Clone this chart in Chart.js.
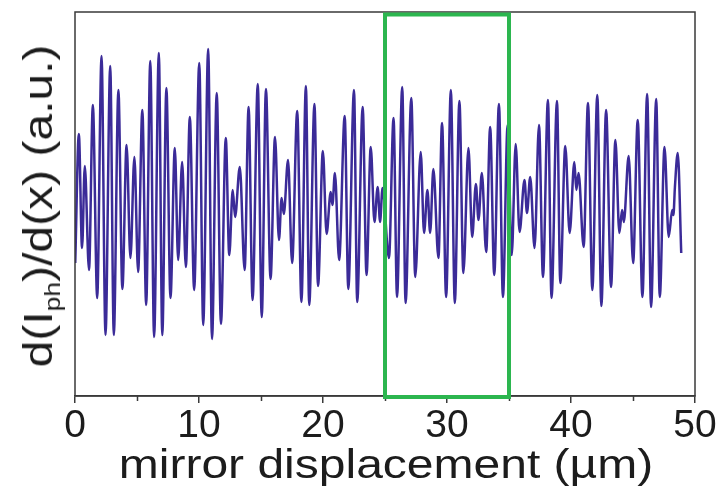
<!DOCTYPE html>
<html>
<head>
<meta charset="utf-8">
<script src="https://cdn.jsdelivr.net/npm/chart.js@4"></script>
<style>
	html, body { margin: 0; padding: 0; background: #fff; }
	#wrap { position: relative; width: 726px; height: 488px; }
	.axis-title {
		position: absolute;
		font-family: "Liberation Sans", Arial, sans-serif; font-size: 40px; color: #1c1c1c;
		white-space: nowrap; line-height: 1;
	}
	#ytitle { left: 38px; top: 206px; transform: translate(-50%, -50%) rotate(-90deg) scaleX(1.2); }
	#ytitle sub { font-size: 22px; vertical-align: -8px; line-height: 0; }
	#xtitle { left: 386px; top: 444px; transform: translateX(-50%) scaleX(1.2); }
</style>
</head>
<body>
<div id="wrap">
	<canvas id="chart" width="726" height="488"></canvas>
	<div id="ytitle" class="axis-title">d(I<sub>ph</sub>)/d(x) (a.u.)</div>
	<div id="xtitle" class="axis-title">mirror displacement (µm)</div>
</div>
<script>
// mirror displacement (µm) of each turning point of the trace
var displacement = [0.02, 0.31, 0.57, 0.79, 1.13, 1.44, 1.79, 2.14, 2.46, 2.84,
	3.13, 3.50, 3.82, 4.16, 4.47, 4.79, 5.09, 5.43, 5.74, 6.07,
	6.38, 6.76, 7.04, 7.37, 7.70, 8.05, 8.32, 8.64, 8.94, 9.26,
	9.61, 10.02, 10.34, 10.74, 11.05, 11.43, 11.77, 12.16, 12.44, 12.72,
	12.91, 13.29, 13.68, 14.00, 14.32, 14.74, 15.06, 15.40, 15.77, 16.13,
	16.45, 16.66, 16.84, 17.18, 17.51, 17.92, 18.26, 18.62, 18.89, 19.31,
	19.60, 19.99, 20.29, 20.62, 20.76, 20.96, 21.30, 21.75, 22.04, 22.50,
	22.76, 23.20, 23.51, 23.85, 24.15, 24.41, 24.60, 24.80, 25.32, 25.69,
	25.97, 26.39, 26.66, 27.12, 27.44, 27.88, 28.15, 28.42, 28.64, 28.90,
	29.31, 29.60, 29.93, 30.31, 30.63, 31.00, 31.32, 31.73, 32.03, 32.33,
	32.54, 32.81, 33.16, 33.48, 33.81, 34.19, 34.51, 34.89, 35.22, 35.54,
	35.85, 36.25, 36.45, 36.71, 37.06, 37.42, 37.74, 38.14, 38.43, 38.87,
	39.14, 39.54, 39.89, 40.27, 40.43, 40.61, 41.02, 41.37, 41.72, 42.12,
	42.45, 42.83, 43.23, 43.58, 43.90, 44.12, 44.26, 44.65, 45.01, 45.38,
	45.76, 46.14, 46.46, 46.87, 47.16, 47.54, 47.88, 48.16, 48.26, 48.38,
	48.61, 48.89];

// d(Iph)/d(x), arbitrary units
var signal = [-4.9, 8.0, -3.4, 4.8, -5.6, 10.9, -8.4, 15.8, -12.1, 14.8,
	-12.1, 12.4, -7.5, 6.9, -4.4, 5.7, -5.8, 10.4, -9.1, 15.3,
	-12.3, 16.1, -12.1, 12.6, -8.4, 6.6, -4.6, 5.2, -5.3, 9.7,
	-7.6, 15.1, -11.1, 16.5, -12.5, 12.1, -11.0, 7.6, -4.1, 2.4,
	-0.3, 4.7, -5.6, 10.7, -8.6, 13.0, -10.3, 12.5, -6.5, 7.7,
	-2.6, 1.6, 0.0, 5.4, -4.9, 10.3, -8.8, 12.8, -9.1, 11.0,
	-7.2, 6.3, -2.0, 2.2, 0.9, 4.1, -4.6, 9.8, -7.5, 12.4,
	-8.8, 10.7, -6.1, 6.7, -0.8, 2.7, -0.8, 2.6, -4.4, 9.6,
	-8.3, 12.7, -8.9, 11.6, -6.3, 6.2, -1.9, 2.4, -1.9, 4.5,
	-4.4, 9.1, -8.3, 12.4, -8.9, 11.3, -5.9, 6.6, -2.3, 3.0,
	-0.6, 4.1, -3.8, 8.7, -6.1, 11.0, -8.3, 8.9, -4.1, 7.0,
	-1.8, 3.4, 0.1, 3.7, -3.4, 8.9, -6.3, 11.4, -8.4, 11.3,
	-6.9, 6.8, -1.9, 5.2, 2.4, 4.1, -3.3, 11.1, -7.6, 11.9,
	-9.2, 10.4, -7.3, 7.4, -1.9, 0.4, -0.8, 5.8, -4.9, 9.4,
	-8.3, 12.0, -9.3, 11.5, -8.3, 6.7, -2.3, 0.4, -0.1, 2.7,
	6.1, -3.9];

var xTicks = [0, 10, 20, 30, 40, 50];
var xMinorTicks = [5, 15, 25, 35, 45];
var highlightRange = [25, 35];

var points = displacement.map(function(x, i) { return { x: x, y: signal[i] }; });

var framePlugin = {
	id: "frame",
	afterDatasetsDraw: function(chart)
	{
		var ctx = chart.ctx;
		var a = chart.chartArea;
		var xs = chart.scales.x;

		ctx.save();
		// box around the plot
		ctx.strokeStyle = "#3a3a3a";
		ctx.lineWidth = 1.5;
		ctx.strokeRect(a.left, a.top, a.right - a.left, a.bottom - a.top);

		// minor ticks
		ctx.beginPath();
		xMinorTicks.forEach(function(v)
		{
			var px = Math.round(xs.getPixelForValue(v)) + 0.5;
			ctx.moveTo(px, a.bottom);
			ctx.lineTo(px, a.bottom + 5);
		});
		ctx.stroke();

		// green window
		var x0 = xs.getPixelForValue(highlightRange[0]);
		var x1 = xs.getPixelForValue(highlightRange[1]);
		ctx.strokeStyle = "#2cb64f";
		ctx.lineWidth = 4;
		ctx.strokeRect(x0, a.top + 2.5, x1 - x0, a.bottom - a.top - 1.5);
		ctx.restore();
	}
};

new Chart(document.getElementById("chart"), {
	type: "line",
	data: {
		datasets: [{
			data: points,
			borderColor: "#3b2b98",
			borderWidth: 2.5,
			pointRadius: 0,
			fill: false,
			cubicInterpolationMode: "monotone"
		}]
	},
	options: {
		responsive: false,
		animation: false,
		events: [],
		layout: { padding: { left: 75, right: 31, top: 12, bottom: 0 } },
		plugins: { legend: { display: false }, tooltip: { enabled: false } },
		scales: {
			x: {
				type: "linear",
				min: 0,
				max: 50,
				afterBuildTicks: function(scale)
				{
					scale.ticks = xTicks.map(function(v) { return { value: v }; });
				},
				afterFit: function(scale) { scale.height = 92; },
				grid: { drawOnChartArea: false, tickLength: 7, color: "#3a3a3a", lineWidth: 1.5 },
				border: { color: "#3a3a3a", width: 1.5 },
				ticks: {
					maxRotation: 0,
					padding: 0,
					color: "#1c1c1c",
					font: { family: "'Liberation Sans', Arial, sans-serif", size: 39 }
				},
				title: { display: false }
			},
			y: {
				display: false,
				min: -18.2,
				max: 20.2
			}
		}
	},
	plugins: [framePlugin]
});
</script>
</body>
</html>
